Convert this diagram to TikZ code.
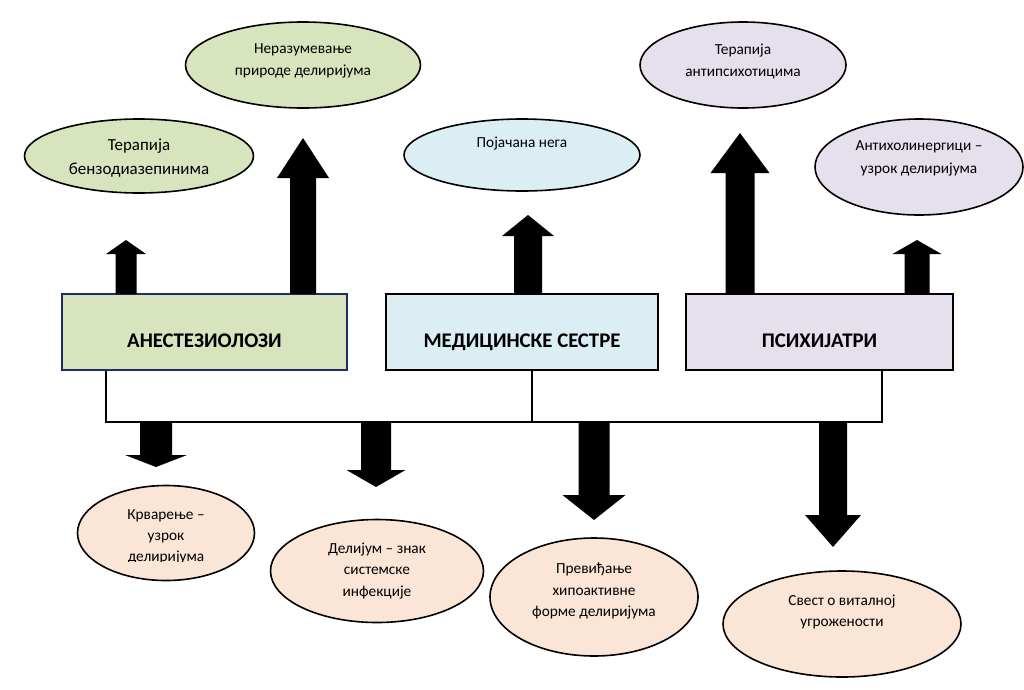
\documentclass[tikz,border=0pt]{standalone}
\usepackage{fontspec}
\setmainfont{Carlito}
\usetikzlibrary{shapes.geometric}
\definecolor{zelena}{RGB}{215,228,189}
\definecolor{plava}{RGB}{218,238,243}
\definecolor{lila}{RGB}{229,224,236}
\definecolor{breskva}{RGB}{251,229,214}
\definecolor{teget}{RGB}{31,45,96}

\begin{document}
\begin{tikzpicture}[x=0.75pt, y=-0.75pt,
        grupa/.style 2 args={rectangle, draw, line width=2pt, minimum width=#1*0.75pt, minimum height=#2*0.75pt, text height=23pt, text depth=0.5pt, font=\fontsize{15.6}{19}\selectfont\bfseries},
        oval/.style 2 args={ellipse, draw, line width=1.2pt, minimum width=#1*0.75pt, minimum height=#2*0.75pt, inner sep=0pt},
        tekst/.style={align=center, font=\fontsize{11.5}{15.8}\selectfont}]
        \useasboundingbox (0,0) rectangle (1024,689);

        % grupe
        \node[grupa={285}{76}, fill=zelena, draw=teget] (anest) at (204.5,332) {АНЕСТЕЗИОЛОЗИ};
        \node[grupa={272}{76}, fill=plava] (sestre) at (522,332) {МЕДИЦИНСКЕ СЕСТРЕ};
        \node[grupa={267}{76}, fill=lila] (psih) at (819.5,332) {ПСИХИЈАТРИ};

        % gornje elipse
        \node[oval={229}{74}, fill=zelena] (benzo) at (139,156) {};
        \node[tekst, font=\fontsize{12.7}{18}\selectfont] (benzot) at (139,158) {Терапија\\бензодиазепинима};
        \node[oval={235}{86}, fill=zelena] (priroda) at (303,65) {};
        \node[tekst, font=\fontsize{11.5}{16.5}\selectfont] (prirodat) at (303,61) {Неразумевање\\природе делиријума};
        \node[oval={236}{72}, fill=plava] (nega) at (522,155) {};
        \node[tekst] (negat) at (522,144) {Појачана нега};
        \node[oval={206}{86}, fill=lila] (antips) at (743,65) {};
        \node[tekst, font=\fontsize{11.5}{16.5}\selectfont] (antipst) at (743,61) {Терапија\\антипсихотицима};
        \node[oval={208}{96}, fill=lila] (antih) at (919,167) {};
        \node[tekst, font=\fontsize{11.5}{17.2}\selectfont] (antiht) at (919,158) {Антихолинергици –\\узрок делиријума};

        % donje elipse
        \node[oval={177}{95}, fill=breskva] (krv) at (166,533) {};
        \begin{scope}
            \clip (0,0) rectangle (1024,561);
            \node[tekst] (krvt) at (166,537) {Крварење –\\узрок\\делиријума};
        \end{scope}
        \node[oval={213}{103}, fill=breskva] (infek) at (377,571) {};
        \node[tekst] (infekt) at (377,571) {Делијум – знак\\системске\\инфекције};
        \node[oval={208}{118}, fill=breskva] (hipo) at (594,597) {};
        \node[tekst] (hipot) at (594,591) {Превиђање\\хипоактивне\\форме делиријума};
        \node[oval={238}{106}, fill=breskva] (svest) at (842,624) {};
        \node[tekst] (svestt) at (842,612) {Свест о виталној\\угрожености};

        % zagrada ispod grupa
        \coordinate (z1) at (106,422);
        \coordinate (z2) at (532,422);
        \coordinate (z3) at (882,422);
        \draw[line width=1.5pt] (z1 |- anest.south) -- (z1) -- (z3) -- (z3 |- psih.south);
        \draw[line width=1.5pt] (z2 |- sestre.south) -- (z2);

        % strelice nagore
        \fill (115.5,294) -- (115.5,254) -- (106,254) -- (126,240) -- (146,254) -- (136.5,254) -- (136.5,294) -- cycle;
        \fill (290,294) -- (290,178) -- (277,178) -- (303,138) -- (329,178) -- (316,178) -- (316,294) -- cycle;
        \fill (514,294) -- (514,236) -- (502,236) -- (528,215) -- (554,236) -- (542,236) -- (542,294) -- cycle;
        \fill (725.5,294) -- (725.5,173) -- (710.5,173) -- (740,133) -- (769.5,173) -- (754.5,173) -- (754.5,294) -- cycle;
        \fill (904.5,294) -- (904.5,254) -- (892.5,254) -- (917,240) -- (941.5,254) -- (929.5,254) -- (929.5,294) -- cycle;

        % strelice nadole
        \fill (140,422) -- (140,455) -- (125,455) -- (156,467) -- (187,455) -- (172,455) -- (172,422) -- cycle;
        \fill (361,422) -- (361,470) -- (346.5,470) -- (376,487) -- (405.5,470) -- (391,470) -- (391,422) -- cycle;
        \fill (578.5,422) -- (578.5,495) -- (562.5,495) -- (594,520) -- (625.5,495) -- (609.5,495) -- (609.5,422) -- cycle;
        \fill (819,422) -- (819,515) -- (805,515) -- (833,547) -- (861,515) -- (847,515) -- (847,422) -- cycle;
\end{tikzpicture}
\end{document}
